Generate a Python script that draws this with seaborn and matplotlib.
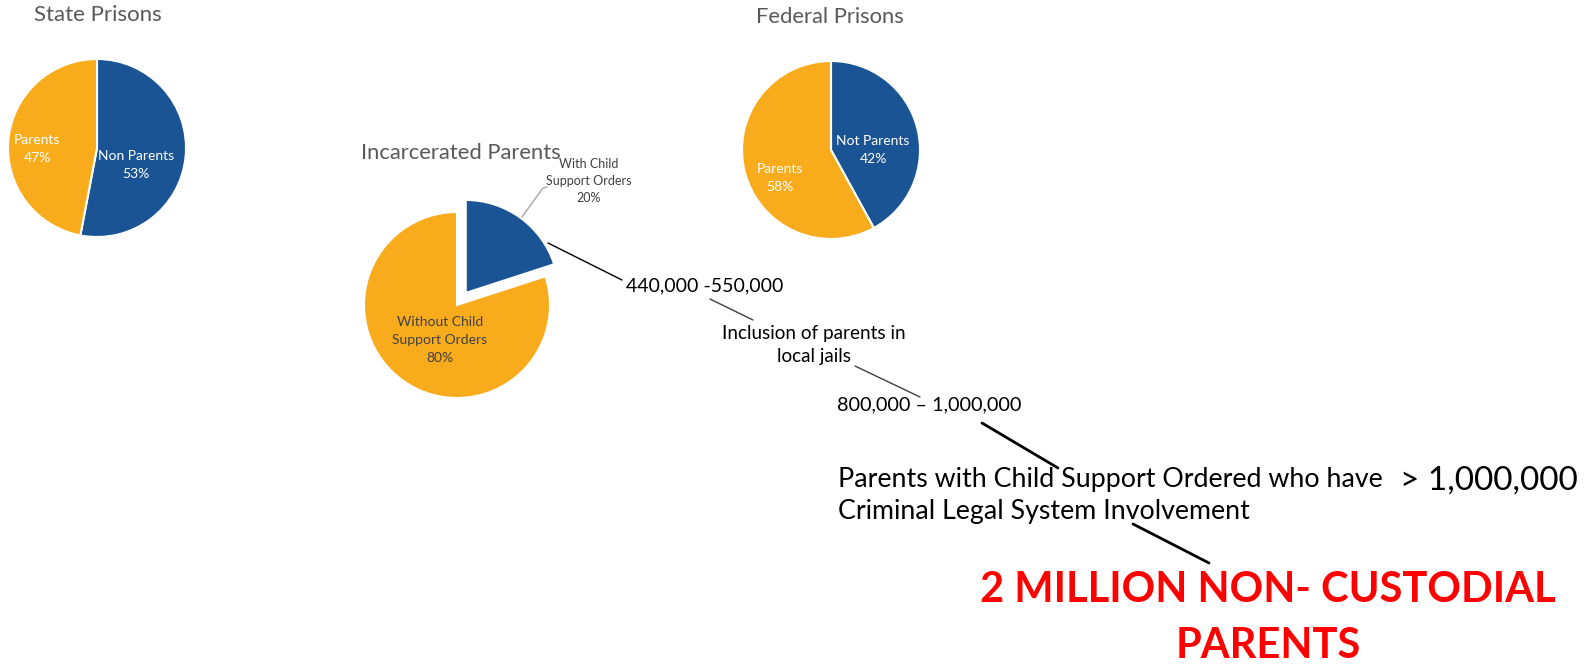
import matplotlib
matplotlib.use("Agg")
import matplotlib.pyplot as plt
import seaborn as sns

# pie data
state_labels = ["Non Parents", "Parents"]
state_values = [53, 47]
federal_labels = ["Not Parents", "Parents"]
federal_values = [42, 58]
incarcerated_labels = ["With Child\nSupport Orders", "Without Child\nSupport Orders"]
incarcerated_values = [20, 80]

# chain of estimates
estimates = ["440,000 -550,000", "800,000 – 1,000,000", "> 1,000,000"]
step_note = "Inclusion of parents in\nlocal jails"
involvement_note = "Parents with Child Support Ordered who have\nCriminal Legal System Involvement"
headline = "2 MILLION NON- CUSTODIAL\nPARENTS"

sns.set_theme(style="white")
plt.rcParams['font.family'] = ['Lato', 'DejaVu Sans']

BLUE = "#1B5494"
ORANGE = "#F9AC1B"
GRAY = "#595959"

W, H = 1587, 664
fig = plt.figure(figsize=(W / 100, H / 100), dpi=100)


def pie_axes(cx, cy, r, lim=1.3):
    # axes in pixel layout (top-left origin)
    s = lim * r
    a = fig.add_axes([(cx - s) / W, 1 - (cy + s) / H, 2 * s / W, 2 * s / H])
    a.set_xlim(-lim, lim)
    a.set_ylim(-lim, lim)
    a.axis('off')
    return a


def draw_pie(a, values, explode=None):
    a.pie(values, colors=[BLUE, ORANGE], startangle=90, counterclock=False,
          explode=explode, radius=1,
          wedgeprops=dict(edgecolor="white", linewidth=1.5))
    a.set_xlim(-1.3, 1.3)
    a.set_ylim(-1.3, 1.3)


ax_state = pie_axes(97, 148, 89)
draw_pie(ax_state, state_values)
ax_fed = pie_axes(831, 150, 89)
draw_pie(ax_fed, federal_values)
ax_inc = pie_axes(457, 305, 93)
draw_pie(ax_inc, incarcerated_values, explode=[0.16, 0])

# overlay axis in pixel coordinates
ax = fig.add_axes([0, 0, 1, 1])
ax.set_xlim(0, W)
ax.set_ylim(H, 0)
ax.axis('off')
ax.patch.set_alpha(0)

# titles
ax.text(98, 15, "State Prisons", ha="center", va="center", fontsize=16, color=GRAY)
ax.text(830, 17, "Federal Prisons", ha="center", va="center", fontsize=15.8, color=GRAY)
ax.text(461, 153, "Incarcerated Parents", ha="center", va="center", fontsize=15.8, color=GRAY)

# labels on pies
lab = dict(ha="center", va="center", fontsize=10, linespacing=1.6)
ax.text(37, 149, f"{state_labels[1]}\n{state_values[1]}%", color="white", **lab)
ax.text(136, 165, f"{state_labels[0]}\n{state_values[0]}%", color="white", **lab)
ax.text(873, 150, f"{federal_labels[0]}\n{federal_values[0]}%", color="white", **lab)
ax.text(780, 178, f"{federal_labels[1]}\n{federal_values[1]}%", color="white", **lab)
ax.text(440, 340, f"{incarcerated_labels[1]}\n{incarcerated_values[1]}%", color="#404040", **lab)
ax.text(589, 181, f"{incarcerated_labels[0]}\n{incarcerated_values[0]}%", ha="center", va="center",
        fontsize=9, color="#404040", linespacing=1.45)
ax.plot([522, 543, 547], [217, 188, 187], color="#A6A6A6", lw=1)

# chain of estimates
ax.plot([548, 622], [243, 280], color="black", lw=1)
ax.text(705, 286, estimates[0], ha="center", va="center", fontsize=14, color="black")
ax.plot([710, 753], [299, 320], color="#404040", lw=1)
ax.text(814, 345, step_note, ha="center", va="center", fontsize=13.6, color="black", linespacing=1.45)
ax.plot([855, 920], [366, 397], color="#404040", lw=1)
ax.text(929, 405, estimates[1], ha="center", va="center", fontsize=14.3, color="black")
ax.plot([982, 1058], [423, 468], color="black", lw=2)
ax.text(838, 496, involvement_note, ha="left", va="center", fontsize=19.3, color="black",
        linespacing=1.35)
ax.text(1400, 481, estimates[2], ha="left", va="center", fontsize=24, color="black")
ax.plot([1133, 1209], [524, 563], color="black", lw=2)
ax.text(1268, 618, headline, ha="center", va="center", fontsize=30, fontweight="bold",
        color="#FF0000", linespacing=1.55)

fig.savefig("out.png", dpi=100)
